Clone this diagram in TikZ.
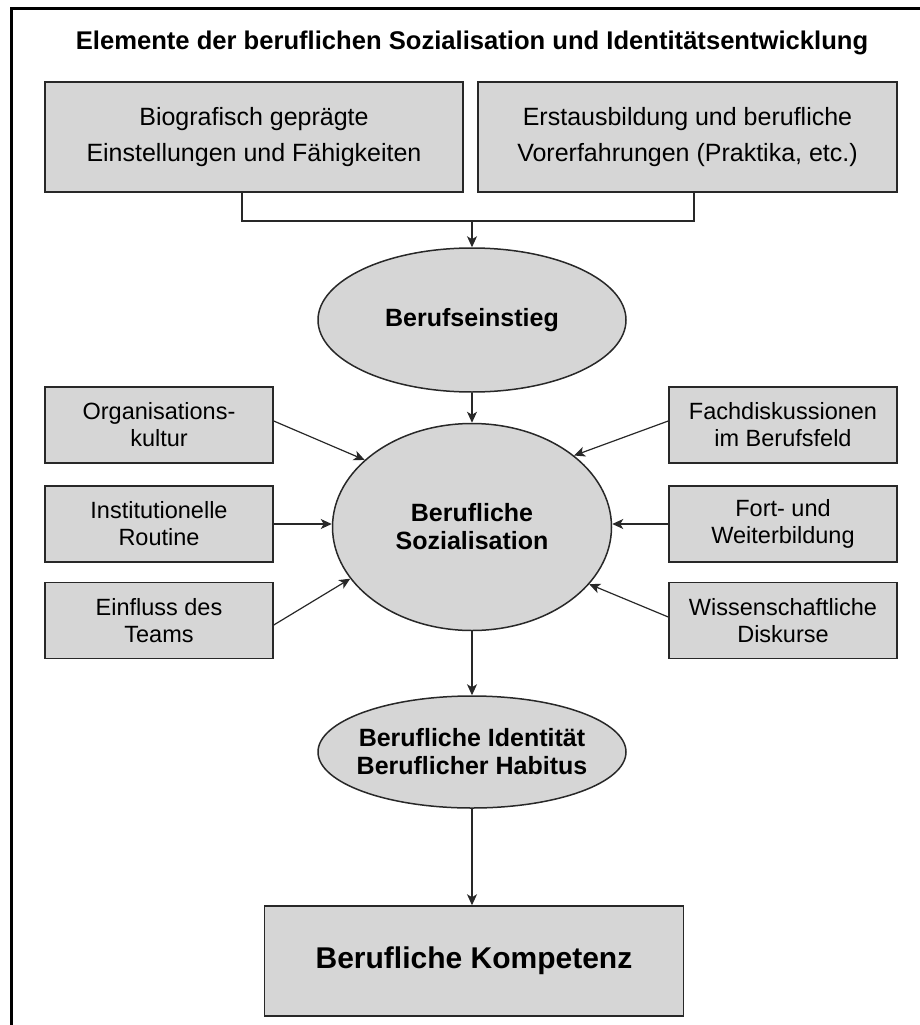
\documentclass[tikz,border=0pt]{standalone}
\usepackage{fontspec}
\setmainfont{Liberation Sans}
\usepackage{xcolor}
\definecolor{boxgray}{RGB}{214,214,214}
\definecolor{edgegray}{RGB}{40,40,40}
\usepackage{tikz}
\usetikzlibrary{arrows.meta,positioning,shapes.geometric}
\tikzset{
  >={Stealth[length=11pt,width=10pt,inset=3pt]},
  srcbox/.style={rectangle,draw=edgegray,line width=1.5pt,fill=boxgray,align=center,inner sep=0pt,font=\fontsize{25}{36}\selectfont},
  sidebox/.style={srcbox,minimum width=228pt,minimum height=76pt,font=\fontsize{23.5}{27}\selectfont},
  stage/.style={ellipse,draw=edgegray,line width=1.5pt,fill=boxgray,align=center,inner sep=0pt,font=\bfseries\fontsize{25}{28}\selectfont},
  feed/.style={->,line width=1.2pt,draw=edgegray}
}

\begin{document}
\begin{tikzpicture}[x=1pt,y=-1pt]
  \useasboundingbox (0,0) rectangle (920,1025);
  % Frame
  \draw[line width=3pt] (11,1025) -- (11,9) -- (920,9);
  \node[font=\bfseries\fontsize{25.6}{30}\selectfont,anchor=base] (title) at (472,49) {Elemente der beruflichen Sozialisation und Identitätsentwicklung};

  % Sources
  \node[srcbox,minimum width=418pt,minimum height=110pt] (bio) at (254,137) {Biografisch geprägte\\Einstellungen und Fähigkeiten};
  \node[srcbox,minimum width=419pt,minimum height=110pt] (erst) at (687.5,137) {Erstausbildung und berufliche\\Vorerfahrungen (Praktika, etc.)};

  % Stages
  \node[stage,minimum width=308pt,minimum height=144pt] (einstieg) at (472,320) {Berufseinstieg};
  \node[stage,minimum width=279pt,minimum height=207pt] (soz) at (472,527) {Berufliche\\Sozialisation};
  \node[stage,minimum width=308pt,minimum height=112pt,inner xsep=-8pt] (ident) at (472,752) {Berufliche Identität\\Beruflicher Habitus};
  \node[srcbox,minimum width=419pt,minimum height=110pt,font=\bfseries\fontsize{30}{36}\selectfont] (komp) at (474,961) {Berufliche Kompetenz};

  % Influences
  \node[sidebox] (org) at (159,425) {Organisations-\\kultur};
  \node[sidebox] (inst) at (159,524) {Institutionelle\\Routine};
  \node[sidebox] (team) at (159,620.5) {Einfluss des\\Teams};
  \node[sidebox] (fach) at (783,425) {Fachdiskussionen\\im Berufsfeld};
  \node[sidebox] (fort) at (783,524) {Fort- und\\Weiterbildung};
  \node[sidebox] (wiss) at (783,620.5) {Wissenschaftliche\\Diskurse};

  % Arrows
  \coordinate (merge) at (472,221);
  \draw[feed,-] ([xshift=-12pt]bio.south) |- (merge) -| ([xshift=6.5pt]erst.south);
  \draw[feed] (merge) -- (einstieg);
  \draw[feed] (einstieg) -- (soz);
  \draw[feed] (soz) -- (ident);
  \draw[feed] (ident.south) -- (ident.south |- komp.north);
  \draw[feed] ([yshift=4pt]org.east) -- (soz.148);
  \draw[feed] (inst.east) -- (inst.east -| soz.west);
  \draw[feed] ([yshift=-4.5pt]team.east) -- (soz.203);
  \draw[feed] ([yshift=4pt]fach.west) -- (soz.35);
  \draw[feed] (fort.west) -- (fort.west -| soz.east);
  \draw[feed] ([yshift=3.5pt]wiss.west) -- (soz.-26);
\end{tikzpicture}
\end{document}
